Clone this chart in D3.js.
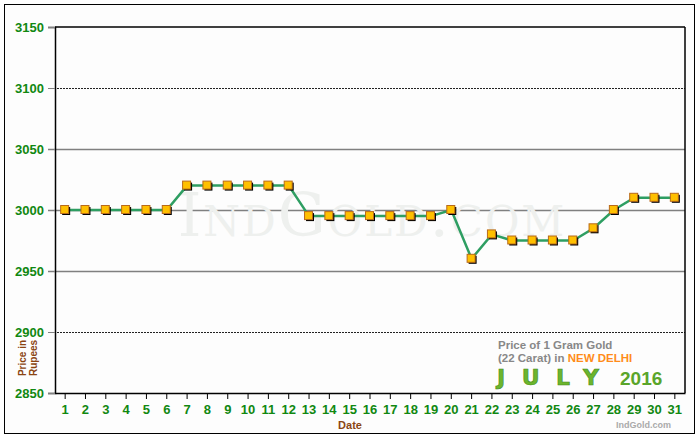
<!DOCTYPE html>
<html><head><meta charset="utf-8">
<script src="https://cdn.jsdelivr.net/npm/d3@7"></script>
<style>body{margin:0;background:#fff}</style>
</head><body>
<svg id="chart" width="700" height="440"></svg>
<script>
var days = d3.range(1, 32)
var prices = [3000,3000,3000,3000,3000,3000,3020,3020,3020,3020,3020,3020,
	2995,2995,2995,2995,2995,2995,2995,3000,2960,2980,2975,2975,2975,2975,2985,3000,3010,3010,3010]
var yTicks = [2850,2900,2950,3000,3050,3100,3150]
var dotted = [2900,3100]

var svg = d3.select('#chart')
var x = d3.scaleBand().domain(days).range([55, 685])
var y = d3.scaleLinear().domain([2850, 3150]).range([393, 27])

svg.append('rect').attr('x', 4.5).attr('y', 4.5).attr('width', 690).attr('height', 429)
	.style('fill', '#fdfdfd').style('stroke', '#000')

// gridlines
svg.selectAll('.grid').data(yTicks.slice(1, -1)).enter().append('line')
	.attr('x1', 48).attr('x2', 685)
	.attr('y1', function(d){ return y(d) + .5 }).attr('y2', function(d){ return y(d) + .5 })
	.style('stroke', function(d){ return dotted.indexOf(d) >= 0 ? '#222' : '#808080' })
	.style('stroke-width', function(d){ return dotted.indexOf(d) >= 0 ? 1 : 1.5 })
	.style('stroke-dasharray', function(d){ return dotted.indexOf(d) >= 0 ? '2,1' : null })

// watermark
svg.append('text').attr('x', 372).attr('y', 236).attr('text-anchor', 'middle')
	.style('font-family', 'DejaVu Serif').style('font-size', '60px').style('letter-spacing', '2px')
	.style('font-variant', 'small-caps').style('fill', '#eef0ee').text('IndGold.com')

// frame
svg.append('line').attr('x1', 55).attr('x2', 685).attr('y1', 27).attr('y2', 27).style('stroke', '#000').style('stroke-width', 1.5)
svg.append('line').attr('x1', 685).attr('x2', 685).attr('y1', 27).attr('y2', 393).style('stroke', '#000').style('stroke-width', 1.5)

var yAxis = svg.append('g').attr('transform', 'translate(55,0)')
	.call(d3.axisLeft(y).tickValues(yTicks).tickFormat(d3.format('d')).tickSize(7).tickPadding(4))
yAxis.select('.domain').style('stroke', '#000').style('stroke-width', 1.5)
yAxis.selectAll('.tick line').style('stroke', '#808080')
yAxis.selectAll('text').style('fill', '#118811').style('font-family', 'Arial, Liberation Sans')
	.style('font-size', '13px').style('font-weight', 'bold')

var xAxis = svg.append('g').attr('transform', 'translate(0,393)')
	.call(d3.axisBottom(x).tickSize(6).tickPadding(6).tickSizeOuter(0))
xAxis.select('.domain').style('stroke', '#000').style('stroke-width', 1.5)
xAxis.selectAll('.tick line').style('stroke', '#000')
xAxis.selectAll('text').style('fill', '#118811').style('font-family', 'Arial, Liberation Sans')
	.style('font-size', '13px').style('font-weight', 'bold')

svg.append('text').attr('x', 350).attr('y', 429).attr('text-anchor', 'middle')
	.style('font-family', 'Arial').style('font-size', '11px').style('font-weight', 'bold').style('fill', '#8b4513').text('Date')
var yl = svg.append('text').attr('transform', 'translate(26,358) rotate(-90)').attr('text-anchor', 'middle')
	.style('font-family', 'Arial').style('font-size', '10px').style('font-weight', 'bold').style('fill', '#8b4513')
yl.append('tspan').attr('x', 0).attr('dy', 0).text('Price in')
yl.append('tspan').attr('x', 0).attr('dy', 11).text('Rupees')

// line
var cx = function(d){ return x(d) + x.bandwidth() / 2 }
svg.append('path').datum(days)
	.attr('d', d3.line().x(cx).y(function(d, i){ return y(prices[i]) }))
	.style('fill', 'none').style('stroke', '#2e9e62').style('stroke-width', 2.5)

var pts = svg.selectAll('.pt').data(days).enter().append('g')
	.attr('transform', function(d, i){ return 'translate(' + cx(d) + ',' + y(prices[i]) + ')' })
pts.append('rect').attr('x', -3).attr('y', -3).attr('width', 8).attr('height', 8).style('fill', '#000')
pts.append('rect').attr('x', -4.5).attr('y', -4.5).attr('width', 8).attr('height', 8)
	.style('fill', '#ffc000').style('stroke', '#b86a1a').style('stroke-width', 1)

// title box
var t = svg.append('g')
t.append('text').attr('x', 498).attr('y', 349).style('font-family', 'Arial').style('font-weight', 'bold')
	.style('font-size', '11.5px').style('fill', '#888').text('Price of 1 Gram Gold')
var l2 = t.append('text').attr('x', 498).attr('y', 362).style('font-family', 'Arial').style('font-weight', 'bold')
	.style('font-size', '11.5px').style('fill', '#888')
l2.append('tspan').text('(22 Carat) in ')
l2.append('tspan').style('fill', '#ff8c1a').text('NEW DELHI')
t.append('text').attr('x', 497).attr('y', 385).attr('textLength', 102).style('font-family', 'DejaVu Sans').style('font-weight', 'bold')
	.style('font-size', '22px').style('fill', '#6cb52d').style('stroke', '#3f8a1a').style('stroke-width', .6).text('JULY')
t.append('text').attr('x', 620).attr('y', 385).style('font-family', 'Arial').style('font-weight', 'bold')
	.style('font-size', '19px').style('fill', '#5aa52a').text('2016')
svg.append('text').attr('x', 671).attr('y', 428).attr('text-anchor', 'end').style('font-family', 'Arial').style('font-weight', 'bold')
	.style('font-size', '9px').style('fill', '#aaa').text('IndGold.com')
</script>
</body></html>
